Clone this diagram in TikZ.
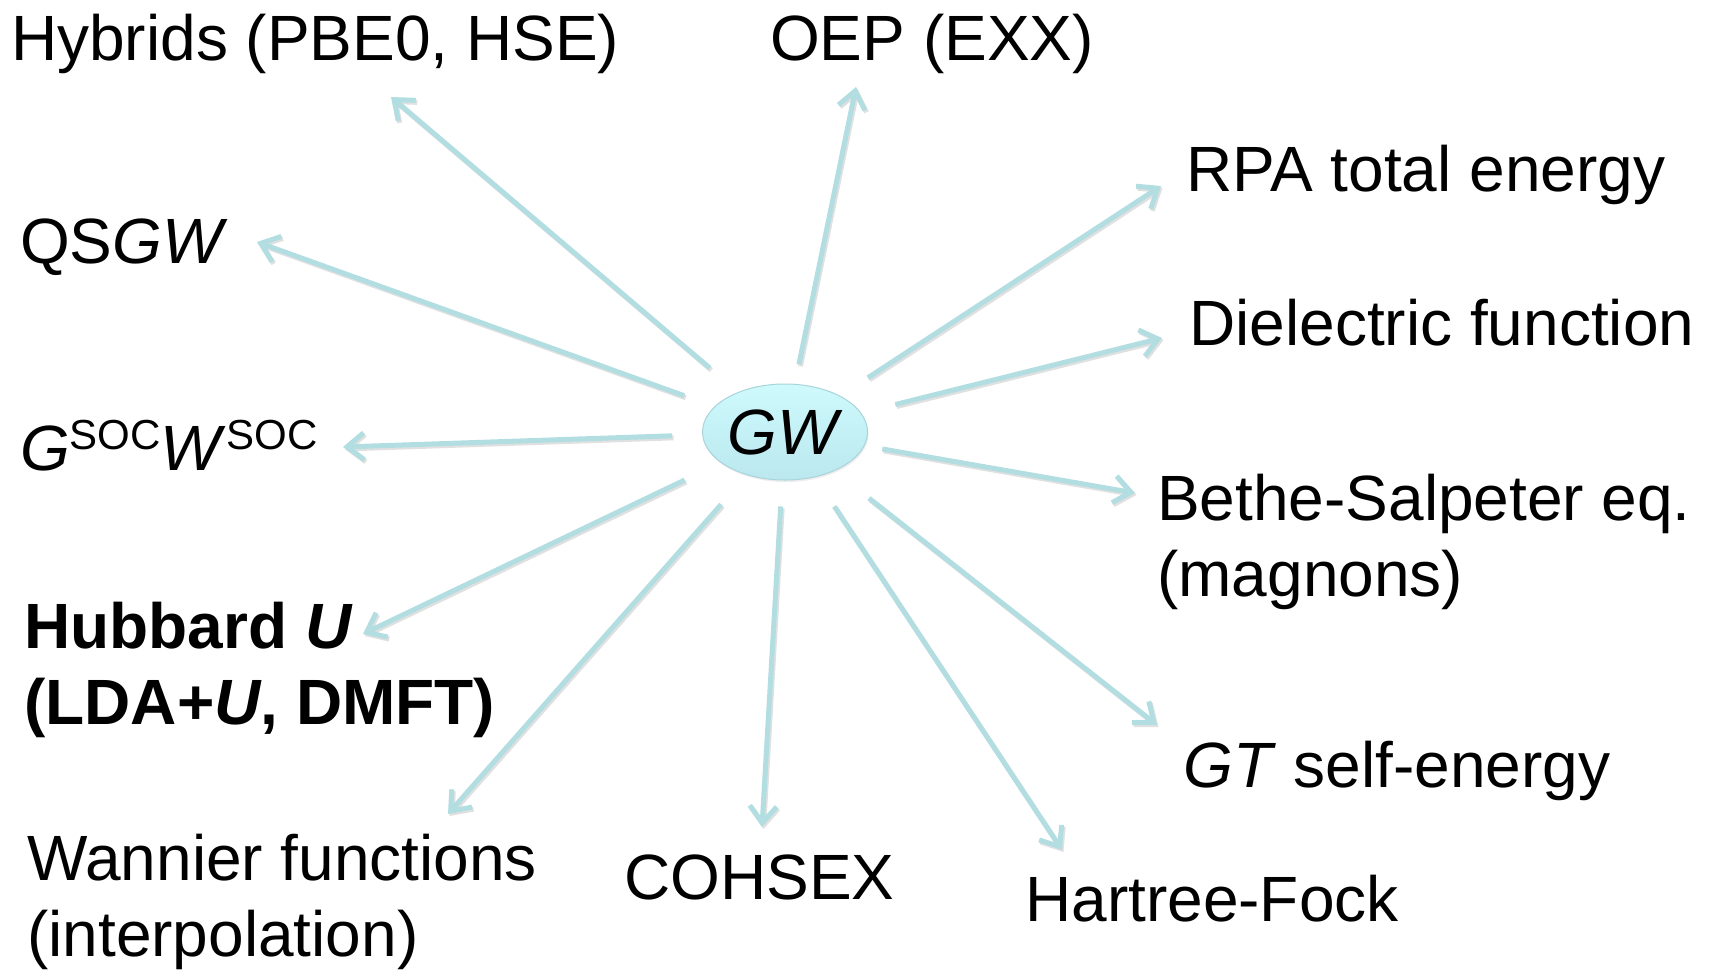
\documentclass[tikz,border=0pt]{standalone}
\usepackage{fontspec}
\setmainfont{Liberation Sans}
\usetikzlibrary{arrows.meta,shapes.geometric,shadows}
\definecolor{arrcol}{RGB}{178,221,225}
\definecolor{gwtop}{RGB}{206,250,253}
\definecolor{gwbot}{RGB}{186,232,238}
\definecolor{gwline}{RGB}{168,212,218}
\newcommand{\socsup}{\raisebox{21pt}{\fontsize{42}{42}\selectfont SOC}}

\begin{document}
\begin{tikzpicture}[x=1pt,y=-1pt,>={Straight Barb[length=17pt,width=27pt]},
    arr/.style={->,draw=arrcol,line width=5pt,
        every edge/.append style={preaction={draw=black,opacity=.12,
            transform canvas={shift={(1.5pt,-2pt)}}}}},
    lbl/.style={anchor=base west,inner sep=0pt,align=left},
    font=\fontsize{64}{76}\selectfont]
    \useasboundingbox (0,0) rectangle (1714,970);

    \node[ellipse,inner sep=0pt,minimum width=165pt,minimum height=96pt,
        top color=gwtop,bottom color=gwbot,draw=gwline,line width=1pt,
        drop shadow={opacity=.15,shadow xshift=1pt,shadow yshift=-2pt}] (gw) at (785,432) {\textit{GW}};

    \node[lbl] (hyb) at (11,60) {Hybrids (PBE0, HSE)};
    \node[lbl] (oep) at (770,60) {OEP (EXX)};
    \node[lbl] (rpa) at (1186,191) {RPA total energy};
    \node[lbl] (die) at (1189,345) {Dielectric function};
    \node[lbl] (bse) at (1157,596) {Bethe-Salpeter eq.\\(magnons)};
    \node[lbl] (gt) at (1183,787) {\textit{GT} self-energy};
    \node[lbl] (hf) at (1025,921) {Hartree-Fock};
    \node[lbl] (coh) at (624,899) {COHSEX};
    \node[lbl] (wan) at (27,956) {Wannier functions\\(interpolation)};
    \node[lbl,font=\fontsize{64}{76}\selectfont\bfseries] (hub) at (24,724) {Hubbard \textit{U}\\(LDA+\textit{U}, DMFT)};
    \node[lbl] (soc) at (20,470) {\textit{G}\socsup\textit{W}\socsup};
    \node[lbl] (qs) at (20,263) {QS\textit{GW}};

    \coordinate (tHyb) at (391,97);
    \coordinate (tOep) at (856,87);
    \coordinate (tRpa) at (1161,186);
    \coordinate (tDie) at (1162,338);
    \coordinate (tBse) at (1135,493);
    \coordinate (tGt) at (1157,725);
    \coordinate (tHf) at (1062,850);
    \coordinate (tCoh) at (762,827);
    \coordinate (tWan) at (448,814);
    \coordinate (tHub) at (363,634);
    \coordinate (tSoc) at (343,447);
    \coordinate (tQs) at (257,242);

    \path[arr]
    (gw) edge[shorten <=37pt] (tHyb)
    (gw) edge[shorten <=20pt] (tOep)
    (gw) edge[shorten <=33pt] (tRpa)
    (gw) edge[shorten <=35pt] (tDie)
    (gw) edge[shorten <=18pt] (tBse)
    (gw) edge[shorten <=44pt] (tGt)
    (gw) edge[shorten <=35pt] (tHf)
    (gw) edge[shorten <=26pt] (tCoh)
    (gw) edge[shorten <=39pt] (tWan)
    (gw) edge[shorten <=40pt] (tHub)
    (gw) edge[shorten <=30pt] (tSoc)
    (gw) edge[shorten <=32pt] (tQs);
\end{tikzpicture}
\end{document}
